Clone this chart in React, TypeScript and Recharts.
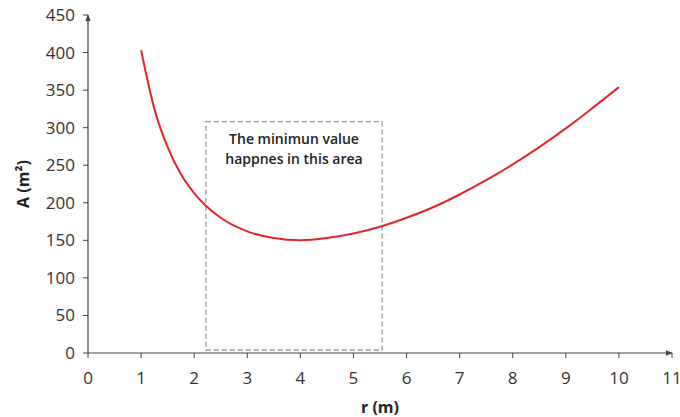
import { LineChart, Line, XAxis, YAxis, ReferenceArea, Label } from 'recharts';

// radius (m) and surface area (m²)
const radius = [1, 1.25, 1.5, 1.75, 2, 2.5, 3, 3.5, 4, 4.5, 5, 5.5, 6, 6.5, 7, 7.5, 8, 8.5, 9, 9.5, 10];
const area = [403, 325, 274, 238, 213, 180, 162, 153, 150, 153, 159, 168, 180, 194, 211, 230, 251, 274, 299, 326, 354];

const xTicks = [0, 1, 2, 3, 4, 5, 6, 7, 8, 9, 10, 11];
const yTicks = [0, 50, 100, 150, 200, 250, 300, 350, 400, 450];

// the dashed box around the minimum
const boxX = [2.22, 5.54];
const boxY = [4, 308];
const note = ['The minimun value', 'happnes in this area'];

const data = radius.map((r, i) => ({ r, a: area[i] }));

const FONT = '"Open Sans", "Liberation Sans", sans-serif';
const AXIS = '#444';

const NoteLabel = (props: any) => {
  const { viewBox } = props;
  const cx = viewBox.x + viewBox.width / 2;
  return (
    <text x={cx} y={viewBox.y + 22} textAnchor="middle" fontFamily={FONT} fontSize={14} fontWeight={600} fill="#222">
      <tspan x={cx} dy={0}>{note[0]}</tspan>
      <tspan x={cx} dy={20}>{note[1]}</tspan>
    </text>
  );
};

export default function App() {
  return (
    <div style={{ position: 'absolute', left: 0, top: 0, background: '#fff' }}>
      <LineChart
        width={680}
        height={417}
        data={data}
        margin={{ top: 15, right: 8, left: 30, bottom: 0 }}
      >
        <defs>
          <marker id="arrowHead" viewBox="0 0 10 10" refX="9" refY="5" markerWidth="6" markerHeight="6" orient="auto-start-reverse">
            <path d="M0,1 L10,5 L0,9 z" fill={AXIS} />
          </marker>
        </defs>
        <XAxis
          dataKey="r"
          type="number"
          domain={[0, 11]}
          ticks={xTicks}
          interval={0}
          height={64}
          tickSize={5}
          tickLine={{ stroke: AXIS }}
          axisLine={{ stroke: AXIS, strokeWidth: 1.2, markerEnd: 'url(#arrowHead)' } as any}
          tick={{ fontSize: 17, fill: '#333', fontFamily: FONT, dy: 12 }}
        >
          <Label value="r (m)" position="insideBottom" offset={0} dy={-4} style={{ fontSize: 16, fontWeight: 700, fill: '#222', fontFamily: FONT }} />
        </XAxis>
        <YAxis
          type="number"
          domain={[0, 450]}
          ticks={yTicks}
          interval={0}
          width={58}
          tickSize={5}
          tickLine={{ stroke: AXIS }}
          axisLine={{ stroke: AXIS, strokeWidth: 1.2, markerStart: 'url(#arrowHead)' } as any}
          tick={{ fontSize: 17, fill: '#333', fontFamily: FONT, dx: -6 }}
        >
          <Label
            value="A (m²)"
            angle={-90}
            position="insideLeft"
            offset={0}
            dx={-7}
            style={{ fontSize: 16, fontWeight: 700, fill: '#222', fontFamily: FONT, textAnchor: 'middle' }}
          />
        </YAxis>
        <ReferenceArea
          x1={boxX[0]}
          x2={boxX[1]}
          y1={boxY[0]}
          y2={boxY[1]}
          fill="none"
          fillOpacity={0}
          stroke="#999"
          strokeWidth={1.3}
          strokeDasharray="5 3"
          label={<NoteLabel />}
          isAnimationActive={false}
        />
        <Line
          type="monotone"
          dataKey="a"
          stroke="#e0262b"
          strokeWidth={2}
          dot={false}
          isAnimationActive={false}
        />
      </LineChart>
    </div>
  );
}
